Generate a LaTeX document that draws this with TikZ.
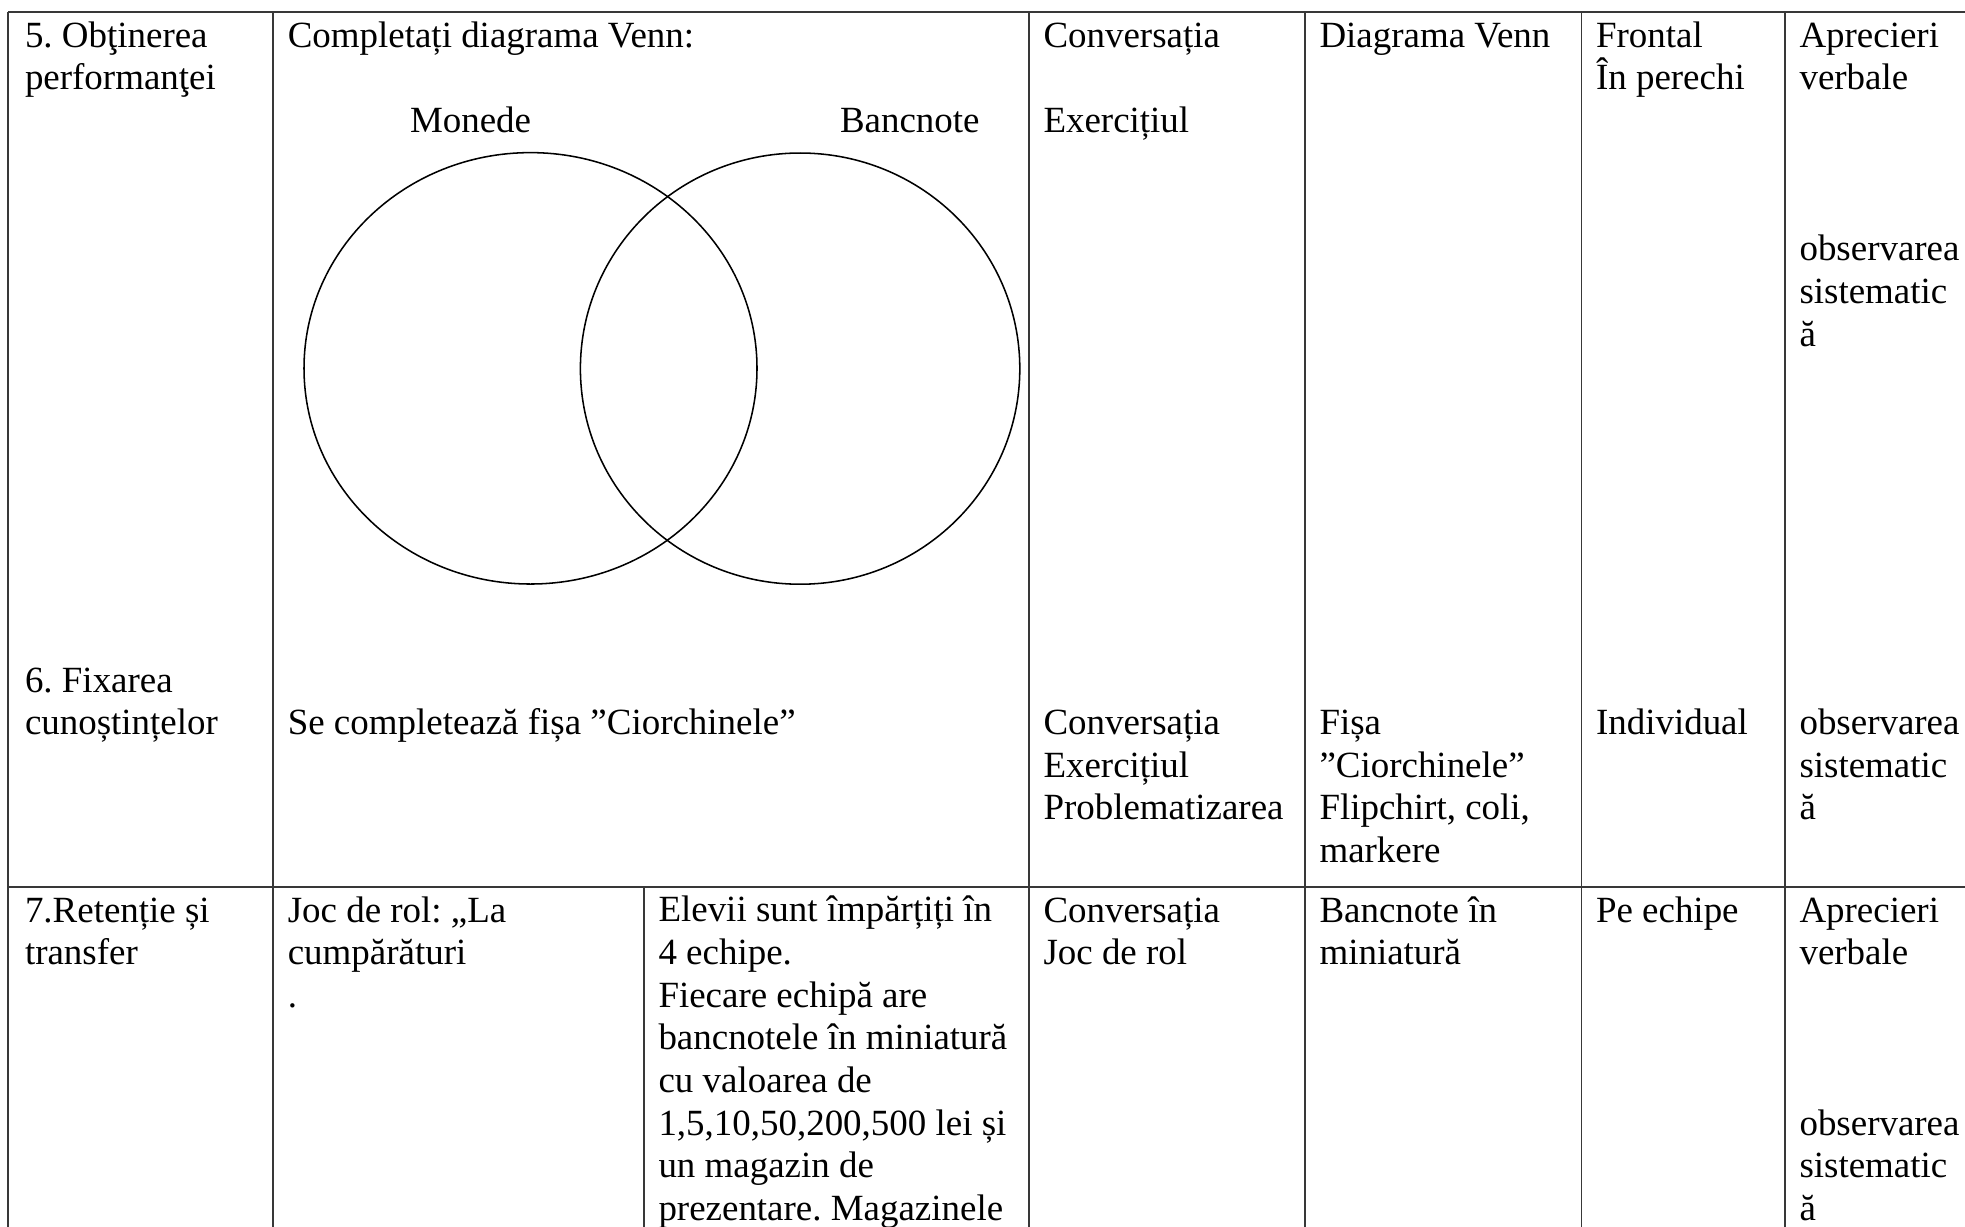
\documentclass[tikz,border=0pt]{standalone}
\usepackage{fontspec}
\setmainfont{Liberation Serif}
\frenchspacing
\begin{document}
\begin{tikzpicture}[x=0.3248pt,y=-0.3248pt,
  rule/.style={line width=0.55pt, draw=black!78},
  venn/.style={line width=0.5pt, draw=black},
  cell/.style={anchor=base west, inner sep=0pt, outer sep=0pt, align=left,
    font=\fontsize{12}{13.84}\selectfont}]
\useasboundingbox (0,0) rectangle (1965,1226);
\clip (0,0) rectangle (1965,1226);
% ---- grid coordinates
\coordinate (tl) at (8.3,12.3);
\coordinate (tr) at (1990,12.3);
\coordinate (bl) at (8.3,1240);
\coordinate (ml) at (8.3,887);
\coordinate (mr) at (1990,887);
\foreach \n/\x in {c1/273.3,c2/1029,c3/1305,c4/1581.5,c5/1785}{
  \coordinate (\n t) at (\x,12.3);
  \coordinate (\n b) at (\x,1240);
}
\coordinate (it) at (644,887);
\coordinate (ib) at (644,1240);
% ---- table rules
\draw[rule] (tl) -- (tr);
\draw[rule] (ml) -- (mr);
\draw[rule] (tl) -- (bl);
\foreach \n in {c1,c2,c3,c4,c5}{\draw[rule] (\n t) -- (\n b);}
\draw[rule] (it) -- (ib);
% ---- Venn diagram
\draw[venn] (530.5,368.3) ellipse [x radius=226.5, y radius=215.7];
\draw[venn] (800.1,368.6) ellipse [x radius=219.7, y radius=215.6];
% ---- row 5 (anchor = baseline of the last line)
\node[cell] (r5a) at (25,89.9) {5. Obţinerea\\performanţei};
\node[cell] (r5b) at (287.8,47.3) {Completați diagrama Venn:};
\node[cell] (mon) at (410,132.5) {Monede};
\node[cell] (ban) at (840,132.5) {Bancnote};
\node[cell] (r5c1) at (1043.5,47.3) {Conversația};
\node[cell] (r5c2) at (1043.5,132.5) {Exercițiul};
\node[cell] (r5d) at (1319.5,47.3) {Diagrama Venn};
\node[cell] (r5e) at (1596,89.9) {Frontal\\În perechi};
\node[cell] (r5f1) at (1799.5,89.9) {Aprecieri\\verbale};
\node[cell] (r5f2) at (1799.5,346.1) {observarea\\sistematic\\ă};
% ---- row 6
\node[cell] (r6a) at (25,734.7) {6. Fixarea\\cunoștințelor};
\node[cell] (r6b) at (287.8,734.7) {Se completează fișa ”Ciorchinele”};
\node[cell] (r6c) at (1043.5,819.9) {Conversația\\Exercițiul\\Problematizarea};
\node[cell] (r6d) at (1319.5,862.5) {Fișa\\”Ciorchinele”\\Flipchirt, coli,\\markere};
\node[cell] (r6e) at (1596,734.7) {Individual};
\node[cell] (r6f) at (1799.5,819.9) {observarea\\sistematic\\ă};
% ---- row 7
\node[cell] (r7a) at (25,964.6) {7.Retenție și\\transfer};
\node[cell] (r7b) at (287.8,1007.2) {Joc de rol: „La\\cumpărături\\.};
\node[cell] (r7i) at (658.5,1220.2) {Elevii sunt împărțiți în\\4 echipe.\\Fiecare echipă are\\bancnotele în miniatură\\cu valoarea de\\1,5,10,50,200,500 lei și\\un magazin de\\prezentare. Magazinele};
\node[cell] (r7c) at (1043.5,964.6) {Conversația\\Joc de rol};
\node[cell] (r7d) at (1319.5,964.6) {Bancnote în\\miniatură};
\node[cell] (r7e) at (1596,922) {Pe echipe};
\node[cell] (r7f1) at (1799.5,964.6) {Aprecieri\\verbale};
\node[cell] (r7f2) at (1799.5,1220.2) {observarea\\sistematic\\ă};
\end{tikzpicture}
\end{document}
